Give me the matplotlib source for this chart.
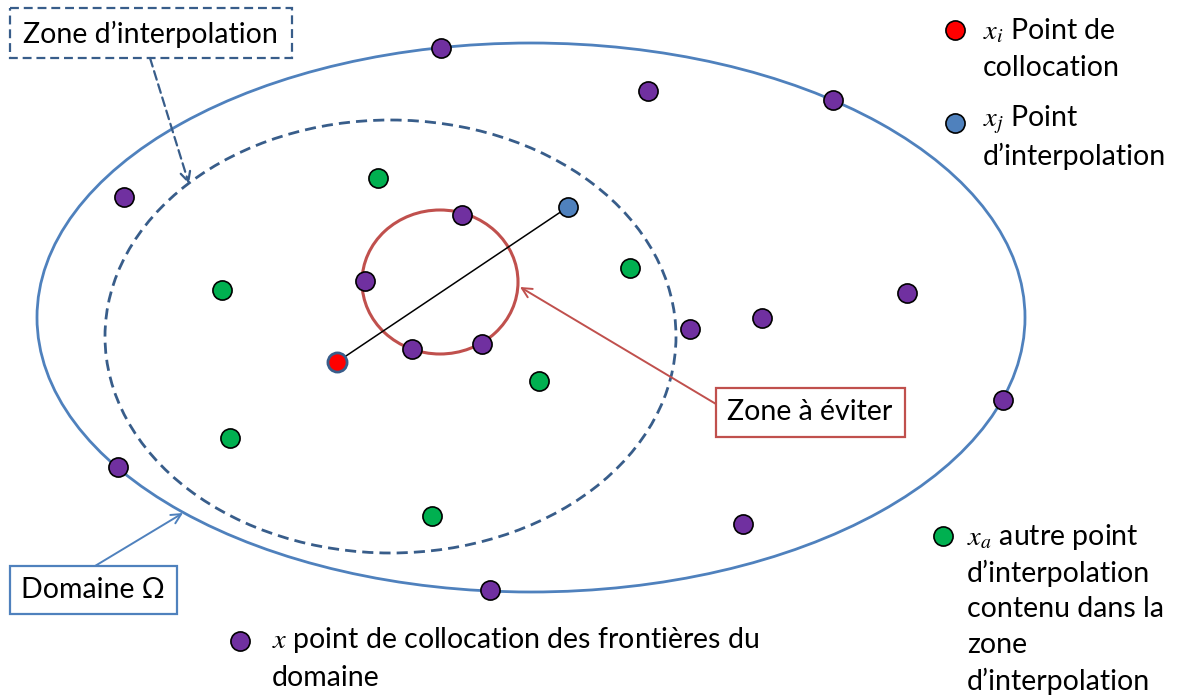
import matplotlib
matplotlib.use("Agg")
import matplotlib.pyplot as plt
from matplotlib.patches import Ellipse, Rectangle

plt.rcParams["font.family"] = ["Lato", "DejaVu Sans"]
plt.rcParams["mathtext.fontset"] = "stix"

# ── Points (pixel coordinates) ───────────────────────────────────────────────
purple_x = [441, 648, 833, 124, 462, 365, 412, 482, 690, 762, 907, 1003, 118, 743, 490]
purple_y = [48, 91, 100, 197, 215, 281, 349, 344, 329, 318, 293, 400, 467, 524, 590]
green_x = [378, 222, 630, 539, 230, 432]
green_y = [178, 290, 268, 381, 438, 516]
red_pt = (337, 362)
blue_pt = (568, 207)

# ── Legend lines ─────────────────────────────────────────────────────────────
legend_red = ["$x_i$ Point de", "collocation"]
legend_blue = ["$x_j$ Point", "d’interpolation"]
legend_green = ["$x_a$ autre point", "d’interpolation", "contenu dans la", "zone", "d’interpolation"]
legend_purple = ["$x$ point de collocation des frontières du", "domaine"]

PURPLE = "#7030A0"
GREEN = "#00B050"
RED = "#FF0000"
BLUE = "#4F81BD"
DARKBLUE = "#385D8A"
BRICK = "#C0504D"

fig = plt.figure(figsize=(11.79, 6.97), dpi=100)
ax = fig.add_axes([0, 0, 1, 1])
ax.set_xlim(0, 1179)
ax.set_ylim(697, 0)
ax.axis("off")

dash = (0, (4.0, 2.2))

# domain and zones
ax.add_patch(Ellipse((531, 317.5), 2 * 494, 2 * 274.5, fill=False, ec=BLUE, lw=2.0))
ax.add_patch(Ellipse((390.5, 336.5), 2 * 285.5, 2 * 216.5, fill=False, ec=DARKBLUE, lw=2.0,
                     ls=dash))
ax.add_patch(Ellipse((440, 282), 2 * 78, 2 * 72, fill=False, ec=BRICK, lw=2.2))

# segment x_i -> x_j
ax.plot([red_pt[0], blue_pt[0]], [red_pt[1], blue_pt[1]], color="black", lw=1.1, zorder=3)

mk = dict(s=190, edgecolors="black", linewidths=1.2, zorder=5)
ax.scatter(purple_x, purple_y, c=PURPLE, **mk)
ax.scatter(green_x, green_y, c=GREEN, **mk)
ax.scatter([blue_pt[0]], [blue_pt[1]], c=BLUE, **mk)
ax.scatter([red_pt[0]], [red_pt[1]], c=RED, s=190, edgecolors=DARKBLUE, linewidths=2.0, zorder=5)

# boxes + arrows
fs = 20.5
ax.add_patch(Rectangle((10, 8), 282, 50, fill=False, ec=DARKBLUE, lw=1.6, ls=dash))
ax.text(150, 34, "Zone d’interpolation", fontsize=fs, ha="center", va="center")
ax.annotate("", xy=(189, 184), xytext=(150, 58),
            arrowprops=dict(arrowstyle="->,head_length=0.7,head_width=0.35", color=DARKBLUE,
                            lw=1.6, ls=dash, shrinkA=0, shrinkB=0))

ax.add_patch(Rectangle((716, 388), 189, 49, fill=False, ec=BRICK, lw=1.6))
ax.text(810, 412, "Zone à éviter", fontsize=fs, ha="center", va="center")
ax.annotate("", xy=(520, 287), xytext=(716, 404),
            arrowprops=dict(arrowstyle="->,head_length=0.7,head_width=0.35", color=BRICK,
                            lw=1.4, shrinkA=0, shrinkB=0))

ax.add_patch(Rectangle((10, 566), 167, 48, fill=False, ec=BLUE, lw=1.6))
ax.text(93, 590, "Domaine Ω", fontsize=fs, ha="center", va="center")
ax.annotate("", xy=(183, 513), xytext=(95, 566),
            arrowprops=dict(arrowstyle="->,head_length=0.7,head_width=0.35", color=BLUE,
                            lw=1.4, shrinkA=0, shrinkB=0))

# legend
def legend_block(mx, my, color, lines, tx, ty, step):
    ax.scatter([mx], [my], c=color, **mk)
    for k, line in enumerate(lines):
        ax.text(tx, ty + k * step, line, fontsize=fs, ha="left", va="center")

legend_block(955, 30, RED, legend_red, 983, 31, 37)
legend_block(955, 123, BLUE, legend_blue, 983, 120, 36)
legend_block(943, 536, GREEN, legend_green, 967, 537, 36)
legend_block(240, 641, PURPLE, legend_purple, 272, 640, 38)

fig.savefig("out.png", dpi=100)
